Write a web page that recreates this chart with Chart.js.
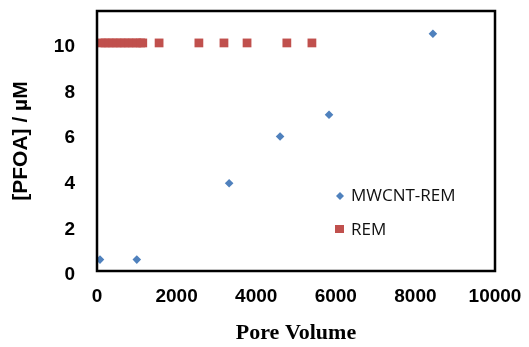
<!DOCTYPE html>
<html>
<head>
<meta charset="utf-8">
<script src="https://cdn.jsdelivr.net/npm/chart.js@4/dist/chart.umd.min.js"></script>
<style>
  html, body { margin: 0; padding: 0; background: #fff; }
  #wrap { width: 529px; height: 347px; }
</style>
</head>
<body>
<div id="wrap"><canvas id="pfoaChart"></canvas></div>
<script>
// values
const mwcntX = [75, 1000, 3320, 4600, 5830, 8440];
const mwcntY = [0.5, 0.5, 3.85, 5.9, 6.85, 10.4];

const remX = [100, 200, 300, 400, 500, 600, 700, 800, 900, 1000, 1100, 1150, 1560, 2560, 3190, 3770, 4770, 5400];
const remY = [10, 10, 10, 10, 10, 10, 10, 10, 10, 10, 10, 10, 10, 10, 10, 10, 10, 10];

const seriesNames = ["MWCNT-REM", "REM"];
const xTicks = [0, 2000, 4000, 6000, 8000, 10000];
const yTicks = [0, 2, 4, 6, 8, 10];

const blue = "#4F81BD";
const red = "#C0504D";

const toPoints = (xs, ys) => xs.map((x, i) => ({ x, y: ys[i] }));

// keep the plot box where layout padding puts it
const noEdgePadding = s => {
  s.paddingTop = 0;
  s.paddingBottom = 0;
  s.paddingLeft = 0;
  s.paddingRight = 0;
};

// black frame round the plot area
const framePlugin = {
  id: "frame",
  afterDraw(chart) {
    const { ctx, chartArea: a } = chart;
    ctx.save();
    ctx.strokeStyle = "#000";
    ctx.lineWidth = 2.5;
    ctx.strokeRect(a.left, a.top, a.right - a.left, a.bottom - a.top);
    ctx.restore();
  }
};

// legend sits inside the plot, lower right
const insideLegend = {
  id: "insideLegend",
  afterDraw(chart) {
    const { ctx } = chart;
    ctx.save();
    ctx.font = "17px 'Open Sans'";
    ctx.textBaseline = "middle";

    // diamond
    ctx.fillStyle = blue;
    ctx.beginPath();
    ctx.moveTo(340, 192);
    ctx.lineTo(344, 196);
    ctx.lineTo(340, 200);
    ctx.lineTo(336, 196);
    ctx.closePath();
    ctx.fill();
    ctx.fillStyle = "#111";
    ctx.fillText(seriesNames[0], 351, 196);

    // square
    ctx.fillStyle = red;
    ctx.fillRect(335, 225, 9, 8);
    ctx.fillStyle = "#111";
    ctx.fillText(seriesNames[1], 351, 230);
    ctx.restore();
  }
};

const tickFont = { family: "'Liberation Sans', Arial", size: 19, weight: "bold" };

new Chart(document.getElementById("pfoaChart"), {
  type: "scatter",
  data: {
    datasets: [
      {
        label: seriesNames[0],
        data: toPoints(mwcntX, mwcntY),
        pointStyle: "rectRot",
        pointRadius: 4.3,
        backgroundColor: blue,
        borderColor: blue,
        borderWidth: 0
      },
      {
        label: seriesNames[1],
        data: toPoints(remX, remY),
        pointStyle: "rect",
        pointRadius: 6.2,
        backgroundColor: red,
        borderColor: red,
        borderWidth: 0
      }
    ]
  },
  options: {
    responsive: true,
    maintainAspectRatio: false,
    animation: false,
    layout: { padding: { top: 11, right: 34, left: 0, bottom: 0 } },
    plugins: {
      legend: { display: false },
      tooltip: { enabled: false }
    },
    scales: {
      x: {
        type: "linear",
        min: 0,
        max: 10000,
        afterBuildTicks: s => { s.ticks = xTicks.map(v => ({ value: v })); },
        afterFit: s => { s.height = 76; noEdgePadding(s); },
        grid: { display: false, drawTicks: false },
        border: { display: false },
        ticks: {
          padding: 14,
          color: "#000",
          font: tickFont,
          callback: v => String(v)
        },
        title: {
          display: true,
          text: "Pore Volume",
          color: "#000",
          padding: { top: 0, bottom: 0 },
          font: { family: "'Liberation Serif', 'Times New Roman'", size: 22, weight: "bold" }
        }
      },
      y: {
        min: 0,
        max: 11.4,
        afterBuildTicks: s => { s.ticks = yTicks.map(v => ({ value: v })); },
        afterFit: s => { s.width = 97; noEdgePadding(s); },
        grid: { display: false, drawTicks: false },
        border: { display: false },
        ticks: {
          padding: 22,
          labelOffset: 4,
          color: "#000",
          font: tickFont,
          callback: v => String(v)
        },
        title: {
          display: true,
          text: "[PFOA] / µM",
          color: "#000",
          padding: { top: 9, bottom: 0 },
          font: { family: "'Liberation Sans', Arial", size: 21, weight: "bold" }
        }
      }
    }
  },
  plugins: [framePlugin, insideLegend]
});
</script>
</body>
</html>
